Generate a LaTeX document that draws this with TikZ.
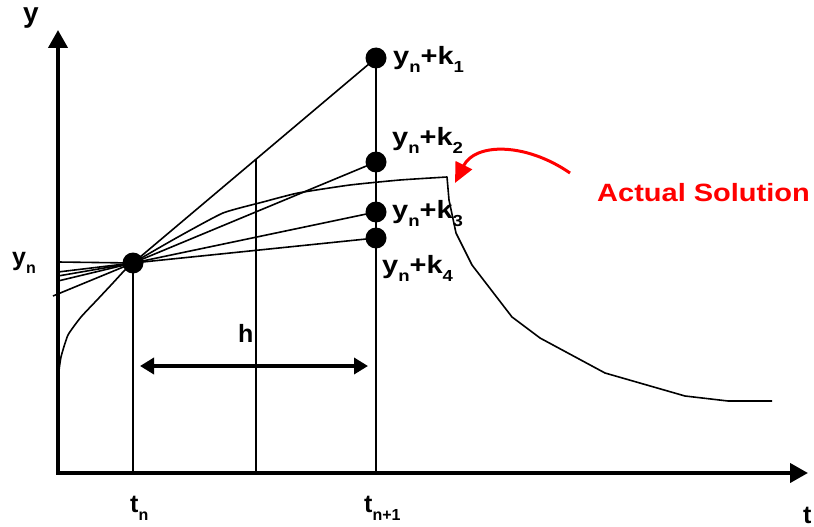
\documentclass[tikz,border=0pt]{standalone}
\usepackage{fontspec}
\setmainfont{Liberation Sans}
\usetikzlibrary{arrows.meta,calc}
\definecolor{solred}{RGB}{255,0,0}
\newcommand\mysub[1]{\raisebox{-8pt}{\fontsize{16}{16}\selectfont #1}}
\begin{document}
\begin{tikzpicture}[x=1pt,y=-1pt,
  dot/.style={circle,fill=black,minimum size=21pt,inner sep=0pt},
  thinl/.style={line width=1.6pt,line join=round},
  axisl/.style={line width=4pt,{Triangle[length=18pt,width=19pt]}-{Triangle[length=18pt,width=19pt]}},
  lbl/.style={anchor=base west,inner sep=0pt,font=\bfseries\fontsize{25}{25}\selectfont},
  ]
\useasboundingbox (0,0) rectangle (814,527);
% axes
\coordinate (O) at (58,473);
\coordinate (Ytop) at (58,30);
\coordinate (Xend) at (808,473);
\draw[axisl] (Ytop) -- (O) -- (Xend);
% points
\node[dot] (P) at (133,263) {};
\node[dot] (K1) at (376,58) {};
\node[dot] (K2) at (376,162) {};
\node[dot] (K3) at (376,212) {};
\node[dot] (K4) at (376,238) {};
% axis feet
\coordinate (B1) at (133,473);
\coordinate (B2) at (376,473);
\coordinate (M) at ($(P)!0.505!(K1)$);
\coordinate (MB) at (M |- O);
\draw[thinl] (P.center) -- (B1);
\draw[thinl] (K1.center) -- (B2);
\draw[thinl] (M) -- (MB);
% left ends
\coordinate (L0) at (58,262);
\coordinate (L4) at (58,272);
\coordinate (L5) at (58,276);
\coordinate (L3) at (58,281);
\coordinate (L2) at (53,296);
\draw[thinl] (L0) -- (P.center);
\draw[thinl] (L5) -- (P.center);
\draw[thinl] (P.center) -- (K1.center);
\draw[thinl] (L2) -- (P.center) -- (K2.center);
\draw[thinl] (L3) -- (P.center) -- (K3.center);
\draw[thinl] (L4) -- (P.center) -- (K4.center);
% actual solution curve
\draw[thinl] plot[smooth,tension=0.3] coordinates {(58,378) (61,357) (68,335) (81,317) (97,300) (112,284) (124,271) (133,263) (178,237) (223,213) (263,202) (298,193) (350,185) (400,180) (447,177)}
  -- (449,200) -- (456,233) -- (472,265) -- (512,317) -- (540,338) -- (605,373) -- (685,396) -- (728,401) -- (772,401);
% h arrow
\coordinate (H1) at (140,366);
\coordinate (H2) at (368,366);
\draw[line width=3.5pt,{Triangle[length=14pt,width=16pt]}-{Triangle[length=14pt,width=16pt]}] (H1) -- (H2);
% red arrow
\coordinate (R1) at (570,173);
\coordinate (R2) at (455,183);
\draw[solred,line width=3pt,-{Triangle[length=20pt,width=18pt]}] (R1) .. controls (525,142) and (475,143) .. (R2);
% labels
\node[lbl,font=\bfseries\fontsize{28}{28}\selectfont] (ylab) at (23,23) {y};
\node[lbl] (yn) at (12,265) {y\mysub{n}};
\node[lbl] (tn) at (130,512) {t\mysub{n}};
\node[lbl] (tn1) at (364,512) {t\mysub{n+1}};
\node[lbl] (tlab) at (803,523) {t};
\node[lbl] (hlab) at (238,342) {h};
\node[lbl] (l1) at (393,65) {\scalebox{1.16}[1]{y\mysub{n}+k\mysub{1}}};
\node[lbl] (l2) at (392,145) {\scalebox{1.16}[1]{y\mysub{n}+k\mysub{2}}};
\node[lbl] (l3) at (392,218) {\scalebox{1.16}[1]{y\mysub{n}+k\mysub{3}}};
\node[lbl] (l4) at (382,273) {\scalebox{1.16}[1]{y\mysub{n}+k\mysub{4}}};
\node[lbl,text=solred] (act) at (597,201) {\scalebox{1.16}[1]{Actual Solution}};
\end{tikzpicture}
\end{document}
